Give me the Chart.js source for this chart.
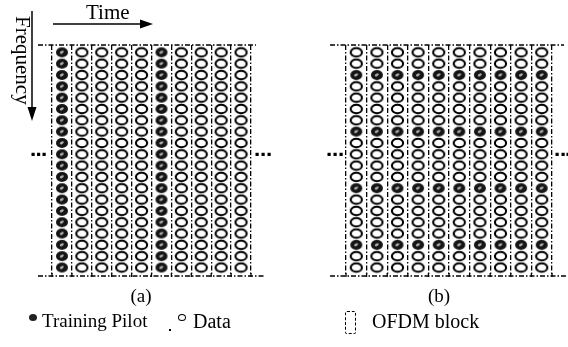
<!DOCTYPE html>
<html><head><meta charset="utf-8">
<script src="https://cdn.jsdelivr.net/npm/chart.js@4/dist/chart.umd.min.js"></script>
<style>
html,body{margin:0;padding:0;background:#fff;}
body{width:568px;height:347px;position:relative;overflow:hidden;font-family:"Liberation Serif","Times New Roman",serif;color:#000;}
canvas{position:absolute;}
.t{position:absolute;white-space:nowrap;line-height:1;}
</style></head><body>
<canvas id="ca" width="290" height="290" style="left:0;top:0"></canvas>
<canvas id="cb" width="278" height="290" style="left:290px;top:0"></canvas>

<div class="t" style="left:86px;top:2px;font-size:21px">Time</div>
<div class="t" style="left:33px;top:16px;font-size:21px;transform:rotate(90deg);transform-origin:left top">Frequency</div>
<div class="t" style="left:111px;top:286px;width:60px;text-align:center;font-size:19px">(a)</div>
<div class="t" style="left:409px;top:286px;width:60px;text-align:center;font-size:19px">(b)</div>

<div class="t" style="left:29px;top:314px;width:8px;height:7px;border-radius:50%;background:#222"></div>
<div class="t" style="left:42px;top:311px;font-size:19px">Training Pilot</div>
<div class="t" style="left:169px;top:329px;width:2px;height:2px;background:#000"></div>
<div class="t" style="left:178px;top:314px;width:6px;height:5px;border-radius:50%;border:1.4px solid #000"></div>
<div class="t" style="left:193px;top:311px;font-size:20px">Data</div>
<div class="t" style="left:345px;top:311px;width:9px;height:21px;border:1.3px dashed #000;border-radius:2px"></div>
<div class="t" style="left:372px;top:311px;font-size:20px">OFDM block</div>

<script>
// ---- data ----
const ofdmBlocks = [1, 2, 3, 4, 5, 6, 7, 8, 9, 10];          // time axis (OFDM symbols)
const subcarriers = [1, 2, 3, 4, 5, 6, 7, 8, 9, 10, 11, 12, 13, 14, 15, 16, 17, 18, 19, 20]; // frequency axis
const pilotBlocksA = [1, 6];                // (a) block-type pilots: whole OFDM blocks
const pilotSubcarriersB = [3, 8, 13, 18];   // (b) comb-type pilots: fixed subcarriers
const ellipsisRow = [10];                   // row where "..." continues the grid

// ---- marker images ----
function pilotImg(){
  const c=document.createElement('canvas');c.width=14;c.height=12;
  const g=c.getContext('2d');
  g.fillStyle='#151515';g.beginPath();g.ellipse(7,6,6,5,0,0,Math.PI*2);g.fill();
  g.fillStyle='#b0b0b0';g.beginPath();g.ellipse(6.8,5.8,2.2,1.3,-0.5,0,Math.PI*2);g.fill();
  return c;
}
function dataImg(){
  const c=document.createElement('canvas');c.width=15;c.height=12;
  const g=c.getContext('2d');
  g.strokeStyle='#000';g.lineWidth=2.1;g.fillStyle='#fff';
  g.beginPath();g.ellipse(7.5,6,5.6,4.3,0,0,Math.PI*2);g.fill();g.stroke();
  return c;
}

function buildPoints(isPilot){
  const pil=[],dat=[];
  for(const b of ofdmBlocks){for(const s of subcarriers){
    (isPilot(b,s)?pil:dat).push({x:b,y:s});
  }}
  return [pil,dat];
}

const DASH=[5,2,1.5,2];
const framePlugin={
  id:'frame',
  afterDatasetsDraw(chart,args,o){
    const g=chart.ctx, xs=chart.scales.x, ys=chart.scales.y;
    const top=ys.getPixelForValue(ys.min), bot=ys.getPixelForValue(ys.max);
    g.save();
    g.strokeStyle='#000';g.lineWidth=1.3;g.setLineDash(DASH);
    g.beginPath();g.moveTo(o.topFrom,top);g.lineTo(o.topTo,top);g.stroke();
    g.beginPath();g.moveTo(o.botFrom,bot);g.lineTo(o.botTo,bot);g.stroke();
    g.setLineDash([]);
    xs.ticks.forEach(t=>{const x=xs.getPixelForValue(t.value);g.beginPath();g.moveTo(x,bot-3);g.lineTo(x,bot+1);g.stroke();});
    g.fillStyle='#000';
    const yy=ys.getPixelForValue(ellipsisRow[0]);
    [...o.dotsL,...o.dotsR].forEach(x=>{g.fillRect(x-1.5,yy-1.5,3.2,3.2);});
    if(o.arrows){
      g.lineWidth=1.5;
      g.beginPath();g.moveTo(53,24);g.lineTo(142,24);g.stroke();
      g.beginPath();g.moveTo(153,24);g.lineTo(140,19.5);g.lineTo(140,28.5);g.closePath();g.fill();
      g.beginPath();g.moveTo(32,11);g.lineTo(32,110);g.stroke();
      g.beginPath();g.moveTo(32,121);g.lineTo(27.5,107);g.lineTo(36.5,107);g.closePath();g.fill();
    }
    g.restore();
  }
};

function makeChart(id,isPilot,pad,frame){
  const [pil,dat]=buildPoints(isPilot);
  const bounds=[...ofdmBlocks.map(b=>b-0.5),ofdmBlocks[ofdmBlocks.length-1]+0.5];
  return new Chart(document.getElementById(id),{
    type:'scatter',
    data:{datasets:[
      {label:'Training Pilot',data:pil,pointStyle:pilotImg(),clip:false},
      {label:'Data',data:dat,pointStyle:dataImg(),clip:false}
    ]},
    options:{
      responsive:false,animation:false,
      layout:{padding:pad},
      plugins:{legend:{display:false},tooltip:{enabled:false},frame:frame},
      scales:{
        x:{type:'linear',min:bounds[0],max:bounds[bounds.length-1],
           afterBuildTicks:s=>{s.ticks=bounds.map(v=>({value:v}));},
           afterFit:s=>{s.height=0;},
           ticks:{display:false},
           grid:{color:'#000',lineWidth:1.3,drawTicks:false},
           border:{display:false,dash:DASH}},
        y:{type:'linear',reverse:true,min:subcarriers[0]-0.65,max:subcarriers[subcarriers.length-1]+0.75,display:false}
      }
    },
    plugins:[framePlugin]
  });
}

makeChart('ca',(b,s)=>pilotBlocksA.includes(b),{left:52,right:39,top:45,bottom:14},
  {topFrom:38,topTo:256,botFrom:38,botTo:265,dotsL:[33,38.5,44],dotsR:[257,263,269],arrows:true});
makeChart('cb',(b,s)=>pilotSubcarriersB.includes(s),{left:56,right:16,top:45,bottom:14},
  {topFrom:40,topTo:274,botFrom:40,botTo:276,dotsL:[39,45,51],dotsR:[267,273,278],arrows:false});
</script>
</body></html>
